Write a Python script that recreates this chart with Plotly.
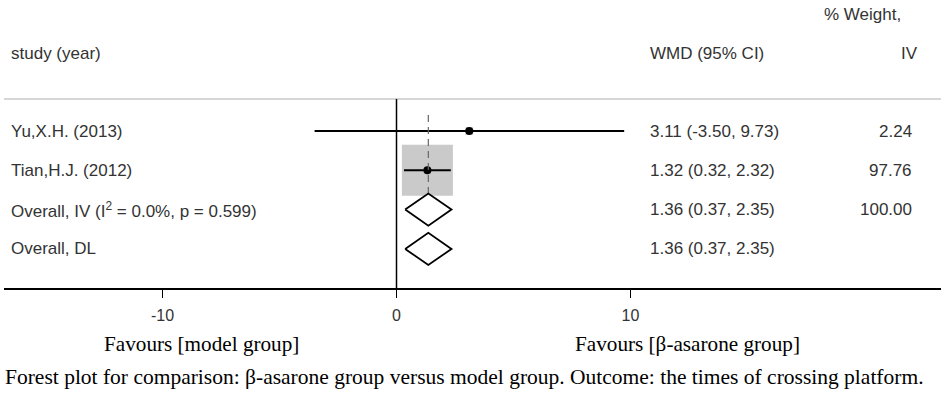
import math
import plotly.graph_objects as go

# ---------------- data ----------------
studies = ["Yu,X.H. (2013)", "Tian,H.J. (2012)"]
study_est = [3.11, 1.32]
study_lo = [-3.50, 0.32]
study_hi = [9.73, 2.32]
study_weight = [2.24, 97.76]

overall_labels = ["Overall, IV (I<sup>2</sup> = 0.0%, p = 0.599)", "Overall, DL"]
overall_est = [1.36, 1.36]
overall_lo = [0.37, 0.37]
overall_hi = [2.35, 2.35]
overall_weight = [100.00, None]

tick_vals = [-10, 0, 10]
tick_text = ["-10", "0", "10"]

header_study = "study (year)"
header_ci = "WMD (95% CI)"
header_w1 = "% Weight,"
header_w2 = "IV"
favours_left = "Favours [model group]"
favours_right = "Favours [β-asarone group]"
caption = ("Forest plot for comparison: β-asarone group versus model group. "
           "Outcome: the times of crossing platform.")

# ---------------- geometry helpers ----------------
W, H = 948, 393
ML, MR = 4, 7
X0PX, PPU = 396.5, 23.4          # pixel of x=0, pixels per unit
ROW0PX, ROWSTEP = 131.0, 39.3     # pixel of first row, row spacing


def px(p):
    return (p - X0PX) / PPU


def py(p):
    return (p - ROW0PX) / ROWSTEP


ARIAL = "Liberation Sans, Arial, sans-serif"
TIMES = "Liberation Serif, Times New Roman, serif"
TXT = "#333333"
FS = 17

n_st = len(studies)
rows_study = list(range(n_st))
rows_overall = [n_st + i for i in range(len(overall_labels))]

fig = go.Figure()

# weight squares
maxw = max(study_weight)
fig.add_trace(go.Scatter(
    x=study_est, y=rows_study, mode="markers",
    marker=dict(symbol="square", color="#b4b4b4",
                size=[51 * math.sqrt(w / maxw) for w in study_weight],
                line=dict(width=0)),
    hoverinfo="skip"))

# confidence interval lines
cx, cy = [], []
for r, l, h in zip(rows_study, study_lo, study_hi):
    cx += [l, h, None]
    cy += [r, r, None]
fig.add_trace(go.Scatter(x=cx, y=cy, mode="lines",
                         line=dict(color="black", width=2), hoverinfo="skip"))

# point estimates
fig.add_trace(go.Scatter(x=study_est, y=rows_study, mode="markers",
                         marker=dict(symbol="circle", color="black", size=8),
                         hoverinfo="skip"))

# dashed overall line
DH = 0.41
fig.add_trace(go.Scatter(
    x=[overall_est[0], overall_est[0]], y=[py(115), rows_overall[0] + DH],
    mode="lines", line=dict(color="#666666", width=1.2, dash="7px,5px"),
    hoverinfo="skip"))

# diamonds
for r, e, l, h in zip(rows_overall, overall_est, overall_lo, overall_hi):
    fig.add_trace(go.Scatter(
        x=[l, e, h, e, l], y=[r, r - DH, r, r + DH, r],
        mode="lines", fill="toself", fillcolor="white",
        line=dict(color="black", width=1.8), hoverinfo="skip"))

# top separator and zero line
fig.add_shape(type="line", xref="paper", yref="y", x0=0, x1=1,
              y0=py(99), y1=py(99), line=dict(color="#c8c8c8", width=1.5))
fig.add_shape(type="line", xref="x", yref="y", x0=0, x1=0,
              y0=py(99), y1=py(289), line=dict(color="black", width=1.5))

# annotations
ann = []


def text(x, y, s, anchor="left", size=FS, family=ARIAL, color=TXT):
    ann.append(dict(x=x, y=y, xref="x", yref="y", text=s, showarrow=False,
                    xanchor=anchor, yanchor="middle",
                    font=dict(family=family, size=size, color=color)))


text(px(9), py(53), header_study)
text(px(648), py(53), header_ci)
text(px(903), py(14), header_w1, anchor="right")
text(px(920), py(53), header_w2, anchor="right")

for r, s, e, l, h, w in zip(rows_study, studies, study_est, study_lo, study_hi, study_weight):
    text(px(9), r, s)
    text(px(648), r, f"{e:.2f} ({l:.2f}, {h:.2f})")
    text(px(914), r, f"{w:.2f}", anchor="right")

for r, s, e, l, h, w in zip(rows_overall, overall_labels, overall_est, overall_lo, overall_hi, overall_weight):
    text(px(9), r, s)
    text(px(648), r, f"{e:.2f} ({l:.2f}, {h:.2f})")
    if w is not None:
        text(px(914), r, f"{w:.2f}", anchor="right")

text(px(201), py(344), favours_left, anchor="center", size=21.2, family=TIMES, color="black")
text(px(687), py(344), favours_right, anchor="center", size=21.2, family=TIMES, color="black")
text(px(464.5), py(377), caption, anchor="center", size=21.5, family=TIMES, color="black")

fig.update_layout(
    width=W, height=H,
    margin=dict(l=ML, r=MR, t=0, b=0, pad=0),
    paper_bgcolor="white", plot_bgcolor="white",
    showlegend=False,
    annotations=ann,
    xaxis=dict(range=[px(ML), px(W - MR)], anchor="free", position=1 - 289 / H,
               showline=True, linecolor="black", linewidth=1.5,
               ticks="outside", ticklen=8, tickwidth=1.2, tickcolor="black",
               tickvals=tick_vals, ticktext=tick_text,
               tickfont=dict(family=ARIAL, size=16, color=TXT),
               ticklabelstandoff=4,
               showgrid=False, zeroline=False, fixedrange=True),
    yaxis=dict(range=[(H - ROW0PX) / ROWSTEP, -ROW0PX / ROWSTEP], visible=False,
               showgrid=False, zeroline=False, fixedrange=True),
)

fig.write_html(
    "out.html",
    config={"displayModeBar": False},
    post_script="document.body.style.margin='0';document.body.style.overflow='hidden';",
)
